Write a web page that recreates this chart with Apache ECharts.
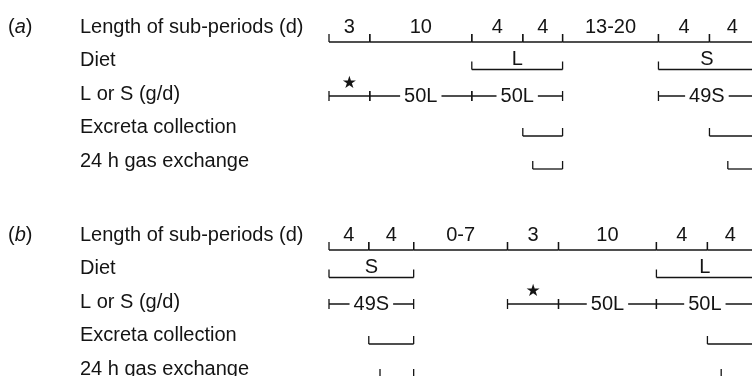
<!DOCTYPE html>
<html><head><meta charset="utf-8">
<script src="https://cdn.jsdelivr.net/npm/echarts@6/dist/echarts.min.js"></script>
<style>html,body{margin:0;padding:0;background:#fff}#c{width:752px;height:376px}</style>
</head><body><div id="c"></div>
<script>
// ---------------- data ----------------
const rowLabels = ['Length of sub-periods (d)', 'Diet', 'L or S (g/d)', 'Excreta collection', '24 h gas exchange'];
const panelTags = ['a', 'b'];
const periodsA = ['3', '10', '4', '4', '13-20', '4', '4'];
const periodsB = ['4', '4', '0-7', '3', '10', '4', '4'];
// diet brackets: [from sub-period, to sub-period, diet]
const dietA = [[2, 4, 'L'], [5, 7, 'S']];
const dietB = [[0, 2, 'S'], [5, 7, 'L']];
// L or S intake: [from, to, label]  (star = pre-period)
const doseA = [[0, 1, '★'], [1, 2, '50L'], [2, 4, '50L'], [5, 7, '49S']];
const doseB = [[0, 2, '49S'], [3, 4, '★'], [4, 5, '50L'], [5, 7, '50L']];
// excreta collection and 24 h gas exchange: [from, to] in sub-period units
const excretaA = [[3, 4], [6, 7]];
const excretaB = [[1, 2], [6, 7]];
const gasA = [[3.25, 4], [6.4, 7]];
const gasB = [[1.25, 2], [6.3, 7]];

// ---------------- layout (schematic, not to scale) ----------------
const drawnSpanA = [4, 10, 5, 3.9, 9.4, 5, 4.5];
const drawnSpanB = [3.9, 4.4, 9.2, 5, 9.6, 5, 4.5];
const L = {
  gridLeft: 329, unitPx: 10.2, xMax: 42,
  rowH: 33.5, rowCenter0: [27, 235],
  labelX: 80, tagX: 8,
  drop: [15, 9, 2, 8.5, 8], tick: 8, doseTick: 5
};
const INK = '#141414';
const FONT_FAMILY = "'Liberation Sans', Arial, Helvetica, sans-serif";
const FONT = '20px ' + FONT_FAMILY;
const LW = 1.3;

function unitAt(spans, p) {
  const i = Math.floor(p);
  let u = 0;
  for (let k = 0; k < i && k < spans.length; k++) u += spans[k];
  return u + (p - i) * (spans[i] || 0);
}

function buildMarks(spans, periods, diet, dose, exc, gas) {
  const m = [];
  periods.forEach((lab, i) => m.push({ kind: 'axis', row: 0, a: i, b: i + 1, label: lab }));
  diet.forEach(d => m.push({ kind: 'diet', row: 1, a: d[0], b: d[1], label: d[2] }));
  dose.forEach(d => m.push({ kind: 'dose', row: 2, a: d[0], b: d[1], label: d[2] }));
  exc.forEach(d => m.push({ kind: 'bracket', row: 3, a: d[0], b: d[1] }));
  gas.forEach(d => m.push({ kind: 'bracket', row: 4, a: d[0], b: d[1] }));
  m.forEach(o => { o.value = [unitAt(spans, o.a), unitAt(spans, o.b), o.row]; });
  return m;
}

const marksA = buildMarks(drawnSpanA, periodsA, dietA, doseA, excretaA, gasA);
const marksB = buildMarks(drawnSpanB, periodsB, dietB, doseB, excretaB, gasB);

function makeRender(marks) {
  return function (params, api) {
    const m = marks[params.dataIndex];
    const p0 = api.coord([api.value(0), api.value(2)]);
    const p1 = api.coord([api.value(1), api.value(2)]);
    const x0 = p0[0], x1 = p1[0], yc = p0[1];
    const ch = [];
    const seg = (ax, ay, bx, by) => ch.push({ type: 'line', shape: { x1: ax, y1: ay, x2: bx, y2: by }, style: { stroke: INK, lineWidth: LW } });
    const txt = (t, x, y, extra) => ch.push({ type: 'text', z2: 10, style: Object.assign({ text: t, x: x, y: y, align: 'center', verticalAlign: 'middle', fill: INK, font: FONT }, extra || {}) });
    const y = yc + L.drop[m.row];
    const mid = (x0 + x1) / 2;
    if (m.kind === 'axis') {
      seg(x0, y, x1, y); seg(x0, y, x0, y - L.tick); seg(x1, y, x1, y - L.tick);
      txt(m.label, mid, yc);
    } else if (m.kind === 'diet' || m.kind === 'bracket') {
      seg(x0, y, x1, y); seg(x0, y, x0, y - L.tick); seg(x1, y, x1, y - L.tick);
      if (m.label) txt(m.label, mid, y - 10);
    } else if (m.kind === 'dose') {
      seg(x0, y, x1, y);
      seg(x0, y - L.doseTick, x0, y + L.doseTick);
      seg(x1, y - L.doseTick, x1, y + L.doseTick);
      if (m.label === '★') txt('★', mid, y - 12, { font: "17px 'DejaVu Sans', sans-serif" });
      else txt(m.label, mid, y, { backgroundColor: '#fff', padding: [0, 4] });
    }
    return { type: 'group', children: ch };
  };
}

const grids = [0, 1].map(i => ({
  left: L.gridLeft, top: L.rowCenter0[i] - L.rowH / 2,
  width: L.xMax * L.unitPx, height: L.rowH * rowLabels.length,
  containLabel: false, outerBoundsMode: 'none'
}));

const option = {
  animation: false,
  backgroundColor: '#fff',
  grid: grids,
  xAxis: [0, 1].map(i => ({ type: 'value', gridIndex: i, min: 0, max: L.xMax, show: false })),
  yAxis: [0, 1].map(i => ({
    type: 'category', gridIndex: i, data: rowLabels, inverse: true,
    axisLine: { show: false }, axisTick: { show: false }, splitLine: { show: false },
    axisLabel: { align: 'left', margin: L.gridLeft - L.labelX, color: INK, fontSize: 20, fontFamily: FONT_FAMILY }
  })),
  graphic: panelTags.map((t, i) => ({
    type: 'text', x: L.tagX, y: L.rowCenter0[i],
    style: {
      text: '{n|(}{i|' + t + '}{n|)}', verticalAlign: 'middle', fill: INK, font: FONT,
      rich: { n: { fontSize: 20, fontFamily: FONT_FAMILY, fill: INK }, i: { fontSize: 20, fontStyle: 'italic', fontFamily: FONT_FAMILY, fill: INK } }
    }
  })),
  series: [
    { type: 'custom', xAxisIndex: 0, yAxisIndex: 0, renderItem: makeRender(marksA), data: marksA.map(o => o.value), encode: { x: [0, 1], y: 2 }, clip: false, silent: true },
    { type: 'custom', xAxisIndex: 1, yAxisIndex: 1, renderItem: makeRender(marksB), data: marksB.map(o => o.value), encode: { x: [0, 1], y: 2 }, clip: false, silent: true }
  ]
};
echarts.init(document.getElementById('c'), null, { renderer: 'canvas' }).setOption(option);
</script>
</body></html>
